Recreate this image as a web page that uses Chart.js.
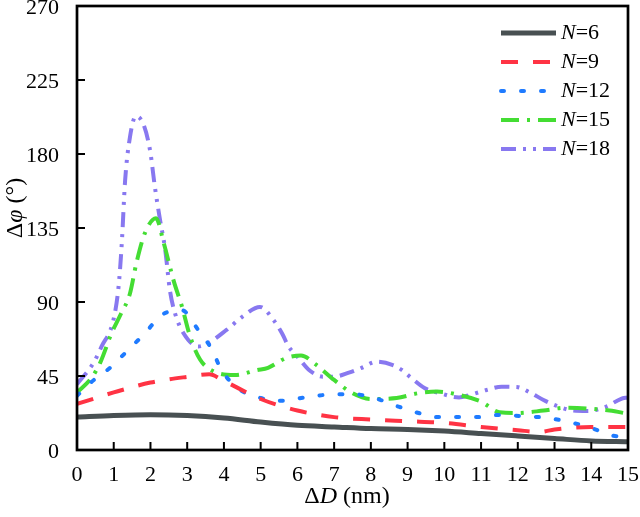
<!DOCTYPE html>
<html>
<head>
<meta charset="utf-8">
<script src="https://cdn.jsdelivr.net/npm/chart.js@4.4.1/dist/chart.umd.min.js"></script>
<style>
html,body{margin:0;padding:0;background:#fff;}
#wrap{width:640px;height:517px;position:relative;}
</style>
</head>
<body>
<div id="wrap"><canvas id="c" width="640" height="517"></canvas></div>
<script>
// ---- data ----
const xTicks = [0,1,2,3,4,5,6,7,8,9,10,11,12,13,14,15];
const yTicks = [0,45,90,135,180,225,270];
const seriesLabels = ["6","9","12","15","18"];

const n6X = [0,1,2,3,4,5,6,7,8,9,10,11,12,13,14,15];
const n6Y = [20,21,21.5,21,19.5,17,15,14,13,12.5,11.5,10,8.5,7,5.5,5];

const n9X = [0,1,2,3,3.6,4,5,6,7,8,9,10,11,12,12.6,13,14,15];
const n9Y = [28,35,41,44.5,46,42,31,24,20,18.5,17.5,16.5,14,12,11,12.5,14,14];

const n12X = [0,0.4,0.9,1.4,1.85,2.3,2.85,3.3,3.7,3.9,4.35,5,5.6,6.2,6.8,7.5,8.1,8.7,9.3,9.8,10.2,10.9,11.5,12.1,12.8,13.4,14,14.6,15];
const n12Y = [33,41.5,50,61,71,82,85,73,60,50,38,31.6,30,32,33.6,34,31.6,26.8,22.5,20,20,20,21.3,20.6,19.5,17,13.4,8.7,8];

const n15X = [0,0.4,0.63,0.94,1.2,1.44,1.62,1.85,2.15,2.36,2.63,2.86,3.08,3.35,3.7,4.3,4.9,5.2,5.7,6.1,6.5,7,7.5,8,8.7,9.3,9.8,10.4,11,11.5,12,12.7,13.3,14.5,15];
const n15Y = [35,44,53,71,83,95,114,132,141,126,103,87,69,55,48,45.6,48.6,50,56,57.5,52,42.6,34.6,31,31.6,34.6,35.5,33.5,29.4,23,22.5,24,25.7,24,22];

const n18X = [0,0.45,0.67,0.99,1.13,1.22,1.31,1.44,1.6,1.81,1.99,2.12,2.26,2.4,2.53,2.67,2.9,3.3,3.57,4.07,4.5,4.98,5.35,5.58,5.76,6.03,6.3,6.7,7.0,7.4,7.75,8.15,8.6,8.84,9.1,9.46,9.87,10.4,10.7,11.15,11.56,11.97,12.33,12.7,13.06,13.5,13.9,14.4,14.8,15];
const n18Y = [40,53,63,79,99,126,164,190,203,198,182,160,140,122,97,83,71,63,65,73,81,87,79,71,63,56,49,44.6,44.6,47,50,53.7,51.6,48.7,43.8,37.7,34.6,32,33.5,36.5,38.5,38.3,35,30.4,26.8,24,23.7,26.3,31,32];

// ---- build ----
function pts(xs, ys){ return xs.map((x,i)=>({x:x,y:ys[i]})); }
const styles = [
  {color:'#485052', width:5, dash:[]},
  {color:'#ff3344', width:4, dash:[17,15]},
  {color:'#1f7bff', width:4, dash:[3,17]},
  {color:'#44dd33', width:4, dash:[18,8,3,8]},
  {color:'#8878f0', width:4, dash:[15,7,3,7,3,7]}
];
const allX = [n6X,n9X,n12X,n15X,n18X];
const allY = [n6Y,n9Y,n12Y,n15Y,n18Y];
const datasets = allX.map((xs,i)=>({
  label: 'N=' + seriesLabels[i],
  data: pts(xs, allY[i]),
  borderColor: styles[i].color,
  borderWidth: styles[i].width,
  borderDash: styles[i].dash,
  borderCapStyle: i===2 ? 'round' : 'butt',
  pointRadius: 0,
  fill: false,
  cubicInterpolationMode: 'monotone',
  tension: 0.4
}));

const SERIF = '"Liberation Serif", "Times New Roman", serif';

const decor = {
  id: 'decor',
  afterDraw(chart){
    const ctx = chart.ctx, a = chart.chartArea;
    const xs = chart.scales.x, ys = chart.scales.y;
    ctx.save();
    // box
    ctx.strokeStyle = '#000'; ctx.lineWidth = 2.7; ctx.setLineDash([]);
    ctx.strokeRect(a.left, a.top, a.right - a.left, a.bottom - a.top);
    // inward ticks
    ctx.lineWidth = 2;
    ctx.beginPath();
    xTicks.forEach(v=>{ const p = xs.getPixelForValue(v); ctx.moveTo(p, a.bottom); ctx.lineTo(p, a.bottom - 8); });
    yTicks.forEach(v=>{ const p = ys.getPixelForValue(v); ctx.moveTo(a.left, p); ctx.lineTo(a.left + 8, p); });
    ctx.stroke();
    // legend
    const lx0 = 501, lx1 = 556, ly0 = 33, dy = 29;
    chart.data.datasets.forEach((ds,i)=>{
      const y = ly0 + dy*i;
      ctx.strokeStyle = ds.borderColor; ctx.lineWidth = ds.borderWidth;
      ctx.setLineDash(ds.borderDash); ctx.lineCap = ds.borderCapStyle;
      ctx.beginPath(); ctx.moveTo(lx0, y); ctx.lineTo(lx1, y); ctx.stroke();
      ctx.setLineDash([]); ctx.lineCap = 'butt';
      ctx.fillStyle = '#000'; ctx.textBaseline = 'middle'; ctx.textAlign = 'left';
      ctx.font = 'italic 22px ' + SERIF;
      ctx.fillText('N', 561, y);
      const w = ctx.measureText('N').width;
      ctx.font = '22px ' + SERIF;
      ctx.fillText('=' + seriesLabels[i], 561 + w, y);
    });
    // titles
    function mixed(parts, cx, cy){
      let total = 0;
      parts.forEach(p=>{ ctx.font = (p[1]?'italic ':'') + '24px ' + SERIF; p.w = ctx.measureText(p[0]).width; total += p.w; });
      let x = cx - total/2;
      ctx.textAlign = 'left'; ctx.textBaseline = 'middle'; ctx.fillStyle = '#000';
      parts.forEach(p=>{ ctx.font = (p[1]?'italic ':'') + '24px ' + SERIF; ctx.fillText(p[0], x, cy); x += p.w; });
    }
    mixed([['Δ',false],['D',true],[' (nm)',false]], 347, 497);
    ctx.save();
    ctx.translate(16, 208); ctx.rotate(-Math.PI/2);
    mixed([['Δ',false],['φ',true],[' (°)',false]], 0, 0);
    ctx.restore();
    ctx.restore();
  }
};

new Chart(document.getElementById('c'), {
  type: 'line',
  data: { datasets },
  options: {
    responsive: false,
    animation: false,
    layout: { padding: { top: 6, right: 12, left: 0, bottom: 0 } },
    plugins: { legend: { display: false }, tooltip: { enabled: false } },
    scales: {
      x: {
        type: 'linear', min: 0, max: 15,
        afterBuildTicks: s => { s.ticks = xTicks.map(v=>({value:v})); },
        afterFit: s => { s.height = 67; s.paddingLeft = 0; s.paddingRight = 0; },
        ticks: { font: { family: SERIF, size: 22 }, color: '#000', padding: 4, maxRotation: 0, autoSkip: false },
        grid: { display: false }, border: { display: false }
      },
      y: {
        type: 'linear', min: 0, max: 270,
        afterBuildTicks: s => { s.ticks = yTicks.map(v=>({value:v})); },
        afterFit: s => { s.width = 77; s.paddingTop = 0; s.paddingBottom = 0; },
        ticks: { font: { family: SERIF, size: 22 }, color: '#000', padding: 10, labelOffset: 2, autoSkip: false },
        grid: { display: false }, border: { display: false }
      }
    }
  },
  plugins: [decor]
});
</script>
</body>
</html>
